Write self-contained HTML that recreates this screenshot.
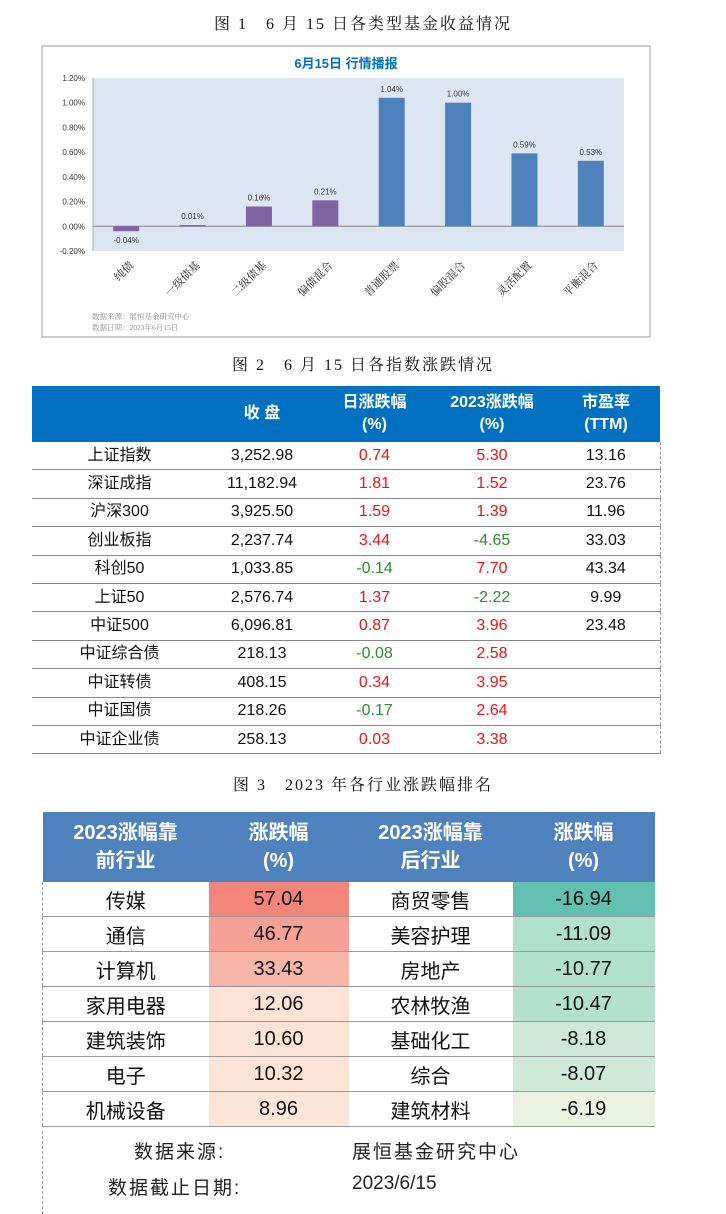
<!DOCTYPE html>
<html><head><meta charset="utf-8">
<style>
body{margin:0;width:726px;height:1214px;background:#fff;position:relative;overflow:hidden;font-family:"Liberation Sans","Noto Sans CJK SC",sans-serif;}
.cap{position:absolute;left:0;width:726px;text-align:center;font-family:"Liberation Serif","Noto Serif CJK SC",serif;font-size:16px;letter-spacing:2px;color:#111;}
table{border-collapse:collapse;position:absolute;table-layout:fixed;}
#t2{left:32px;top:386px;width:628px;font-size:16px;}
#t2 th{background:#0070C0;color:#fff;font-weight:bold;height:56px;line-height:22px;padding:0;}
#t2 td{height:27.4px;border-bottom:1.2px solid #888;text-align:center;padding:0;color:#111;line-height:26px;}
#t2 tr td:last-child{border-right:1px dashed #999;}
.r{color:#e8141a!important}.g{color:#2e8b2e!important}
#t3{left:42px;top:812px;width:612px;font-size:20px;}
#t3 th{background:#4F81BD;color:#fff;font-weight:bold;height:70px;line-height:28px;padding:0;}
#t3 td{height:34px;border-bottom:1.4px solid #999;text-align:center;padding:0;color:#111;}
#t3 tr td:first-child{border-left:1px dashed #999;}
.src{position:absolute;font-size:19px;color:#222;letter-spacing:2px;}
</style></head><body>
<div class="cap" style="top:11px">图 1　6 月 15 日各类型基金收益情况</div>
<svg id="chart" style="position:absolute;left:0;top:0" width="726" height="345"></svg>
<div class="cap" style="top:352px">图 2　6 月 15 日各指数涨跌情况</div>
<table id="t2">
<colgroup><col style="width:175px"><col style="width:110px"><col style="width:115px"><col style="width:120px"><col style="width:108px"></colgroup>
<tr><th></th><th>收 盘</th><th>日涨跌幅<br>(%)</th><th>2023涨跌幅<br>(%)</th><th>市盈率<br>(TTM)</th></tr>
<tr><td>上证指数</td><td>3,252.98</td><td class="r">0.74</td><td class="r">5.30</td><td>13.16</td></tr>
<tr><td>深证成指</td><td>11,182.94</td><td class="r">1.81</td><td class="r">1.52</td><td>23.76</td></tr>
<tr><td>沪深300</td><td>3,925.50</td><td class="r">1.59</td><td class="r">1.39</td><td>11.96</td></tr>
<tr><td>创业板指</td><td>2,237.74</td><td class="r">3.44</td><td class="g">-4.65</td><td>33.03</td></tr>
<tr><td>科创50</td><td>1,033.85</td><td class="g">-0.14</td><td class="r">7.70</td><td>43.34</td></tr>
<tr><td>上证50</td><td>2,576.74</td><td class="r">1.37</td><td class="g">-2.22</td><td>9.99</td></tr>
<tr><td>中证500</td><td>6,096.81</td><td class="r">0.87</td><td class="r">3.96</td><td>23.48</td></tr>
<tr><td>中证综合债</td><td>218.13</td><td class="g">-0.08</td><td class="r">2.58</td><td></td></tr>
<tr><td>中证转债</td><td>408.15</td><td class="r">0.34</td><td class="r">3.95</td><td></td></tr>
<tr><td>中证国债</td><td>218.26</td><td class="g">-0.17</td><td class="r">2.64</td><td></td></tr>
<tr><td>中证企业债</td><td>258.13</td><td class="r">0.03</td><td class="r">3.38</td><td></td></tr>
</table>
<div class="cap" style="top:772px">图 3　2023 年各行业涨跌幅排名</div>
<table id="t3">
<colgroup><col style="width:166px"><col style="width:140px"><col style="width:164px"><col style="width:142px"></colgroup>
<tr><th>2023涨幅靠<br>前行业</th><th>涨跌幅<br>(%)</th><th>2023涨幅靠<br>后行业</th><th>涨跌幅<br>(%)</th></tr>
<tr><td>传媒</td><td style="background:#F4857A">57.04</td><td>商贸零售</td><td style="background:#62C0B0">-16.94</td></tr>
<tr><td>通信</td><td style="background:#F5A195">46.77</td><td>美容护理</td><td style="background:#B0DFCC">-11.09</td></tr>
<tr><td>计算机</td><td style="background:#F8B6A8">33.43</td><td>房地产</td><td style="background:#B2DFCE">-10.77</td></tr>
<tr><td>家用电器</td><td style="background:#FDE2D5">12.06</td><td>农林牧渔</td><td style="background:#B3E0CF">-10.47</td></tr>
<tr><td>建筑装饰</td><td style="background:#FDE3D6">10.60</td><td>基础化工</td><td style="background:#CDE8D8">-8.18</td></tr>
<tr><td>电子</td><td style="background:#FDE3D6">10.32</td><td>综合</td><td style="background:#CFE9D9">-8.07</td></tr>
<tr><td>机械设备</td><td style="background:#FDE6D8">8.96</td><td>建筑材料</td><td style="background:#EAF2E2">-6.19</td></tr>
</table>
<div style="position:absolute;left:42px;top:1131px;height:83px;border-left:1px dashed #999"></div>
<div class="src" style="left:134px;top:1137px">数据来源:</div>
<div class="src" style="left:352px;top:1137px">展恒基金研究中心</div>
<div class="src" style="left:108px;top:1173px">数据截止日期:</div>
<div class="src" style="left:352px;top:1173px;letter-spacing:0">2023/6/15</div>
<script>
const categories=["纯债","一级债基","二级债基","偏债混合","普通股票","偏股混合","灵活配置","平衡混合"];
const values=[-0.04,0.01,0.16,0.21,1.04,1.00,0.59,0.53];
const barColors=["#8064A2","#8064A2","#8064A2","#8064A2","#4F81BD","#4F81BD","#4F81BD","#4F81BD"];
const ticks=[1.2,1.0,0.8,0.6,0.4,0.2,0,-0.2];
const NS="http://www.w3.org/2000/svg";
const svg=document.getElementById('chart');
const L=93,R=624,T=78,B=251,ymax=1.2,ymin=-0.2;
const y=v=>T+(ymax-v)/(ymax-ymin)*(B-T);
const bw=(R-L)/categories.length;
const x=i=>L+bw*(i+0.5);
function mk(tag,attrs,txt){const e=document.createElementNS(NS,tag);for(const k in attrs)e.setAttribute(k,attrs[k]);if(txt!==undefined)e.textContent=txt;svg.appendChild(e);return e;}
let e;
e=mk('rect',{x:42,y:46,width:608,height:291,fill:'#fff',stroke:'#999','stroke-width':1});


e=mk('rect',{x:L,y:T,width:R-L,height:B-T,fill:'#DCE6F2'});


e=mk('text',{x:346,y:68,'text-anchor':'middle','font-size':13,'font-weight':'bold',fill:'#0070C0','font-family':'Liberation Sans,Noto Sans CJK SC,sans-serif'},'6月15日  行情播报');


ticks.forEach(t=>{
 const tl=mk('text',{x:85,y:y(t)+3,'text-anchor':'end','font-size':8,fill:'#333'},t.toFixed(2)+'%');
 
 
});
e=mk('line',{x1:L,x2:R,y1:y(0),y2:y(0),stroke:'#888','stroke-width':1});


e=mk('line',{x1:L,x2:L,y1:T,y2:B,stroke:'#aaa','stroke-width':1});


values.forEach((v,i)=>{
 const w=26,top=Math.min(y(v),y(0)),h=Math.abs(y(v)-y(0));
 const b=mk('rect',{x:x(i)-w/2,y:top,width:w,height:Math.max(h,1.5),fill:barColors[i]});
 
 
 const ly=v>=0?y(v)-6:y(v)+12;
 const l=mk('text',{x:x(i),y:ly,'text-anchor':'middle','font-size':8,fill:'#333'},v.toFixed(2)+'%');
 
 
 const cx=x(i)+8,cy=266;
 const c=mk('text',{x:cx,y:cy,'text-anchor':'end','font-size':11,fill:'#222',transform:`rotate(-45 ${cx} ${cy})`,'font-family':'Liberation Serif,Noto Serif CJK SC,serif'},categories[i]);
 
 
});
e=mk('text',{x:92,y:319,'font-size':7.5,fill:'#888','font-family':'Liberation Serif,Noto Serif CJK SC,serif'},'数据来源：展恒基金研究中心');


e=mk('text',{x:92,y:330,'font-size':7.5,fill:'#888','font-family':'Liberation Serif,Noto Serif CJK SC,serif'},'数据日期：2023年6月15日');


</script>
</body></html>
